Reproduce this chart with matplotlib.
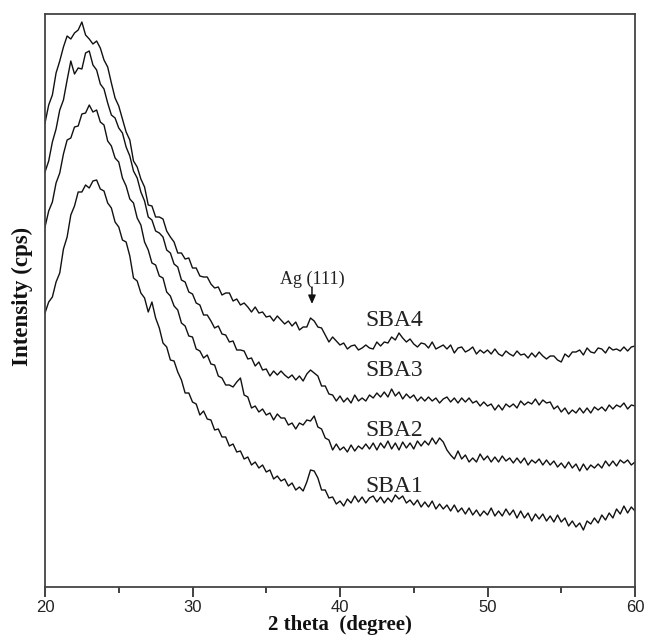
import numpy as np
import matplotlib
matplotlib.use("Agg")
import matplotlib.pyplot as plt

# 2 theta grid (degree)
two_theta = [20 + 0.25 * i for i in range(161)]

# Intensities (arbitrary units)
sba4 = [477, 495, 505, 527, 539, 553, 564, 561, 567, 570, 578, 565, 561, 556, 559, 552, 540, 533, 517, 502,
        494, 481, 468, 460, 439, 433, 421, 413, 395, 394, 383, 383, 381, 369, 363, 358, 347, 347, 341, 342,
        332, 332, 324, 323, 323, 316, 312, 313, 305, 307, 307, 299, 301, 295, 297, 293, 288, 293, 287, 288,
        283, 284, 279, 284, 280, 276, 279, 274, 278, 270, 273, 273, 282, 279, 273, 272, 265, 258, 263, 259,
        255, 257, 251, 254, 255, 250, 252, 255, 252, 251, 258, 254, 258, 257, 263, 260, 267, 262, 258, 261,
        256, 253, 257, 256, 252, 258, 251, 253, 255, 251, 255, 247, 252, 253, 248, 250, 253, 246, 250, 247,
        250, 246, 251, 246, 244, 249, 246, 244, 249, 245, 246, 242, 247, 243, 248, 244, 241, 244, 244, 240,
        238, 246, 243, 248, 248, 250, 245, 252, 248, 247, 252, 251, 247, 253, 250, 251, 249, 253, 249, 253,
        254]
sba3 = [428, 439, 458, 471, 490, 500, 520, 539, 526, 532, 531, 547, 549, 535, 530, 516, 511, 497, 485, 482,
        472, 467, 453, 444, 429, 422, 408, 399, 383, 380, 369, 367, 363, 350, 347, 336, 333, 320, 318, 308,
        306, 297, 295, 285, 285, 279, 272, 274, 266, 265, 258, 259, 250, 250, 249, 241, 242, 234, 238, 230,
        231, 224, 229, 225, 229, 225, 222, 225, 220, 224, 219, 226, 230, 227, 224, 214, 214, 206, 205, 199,
        204, 198, 202, 197, 205, 199, 202, 199, 205, 202, 207, 203, 208, 203, 211, 204, 208, 201, 206, 202,
        205, 199, 203, 199, 203, 199, 202, 197, 201, 203, 198, 202, 197, 202, 198, 202, 197, 199, 194, 198,
        194, 196, 190, 195, 190, 196, 193, 196, 192, 199, 195, 198, 196, 201, 195, 200, 197, 198, 191, 194,
        188, 192, 186, 190, 187, 192, 187, 192, 187, 193, 190, 193, 189, 195, 191, 195, 193, 197, 191, 195,
        194]
sba2 = [373, 389, 398, 417, 427, 446, 460, 462, 473, 474, 486, 487, 495, 488, 490, 478, 475, 459, 454, 442,
        438, 422, 414, 401, 397, 382, 375, 358, 350, 337, 335, 324, 322, 308, 304, 294, 290, 277, 274, 264,
        263, 251, 249, 242, 245, 236, 235, 224, 222, 215, 215, 213, 218, 222, 205, 203, 192, 194, 188, 191,
        185, 187, 180, 186, 182, 182, 175, 177, 171, 177, 175, 180, 179, 184, 173, 171, 162, 160, 150, 156,
        150, 153, 148, 155, 149, 154, 151, 156, 151, 157, 150, 157, 152, 159, 151, 157, 150, 158, 152, 157,
        151, 159, 154, 159, 155, 162, 156, 162, 158, 150, 145, 141, 149, 141, 145, 138, 142, 138, 146, 140,
        144, 138, 143, 138, 144, 139, 142, 137, 142, 137, 142, 135, 140, 137, 141, 135, 140, 135, 139, 133,
        137, 132, 138, 132, 136, 129, 136, 130, 135, 132, 136, 132, 139, 134, 139, 134, 140, 137, 140, 135,
        138]
sba1 = [287, 298, 303, 318, 327, 351, 363, 385, 394, 408, 408, 415, 412, 419, 420, 411, 409, 397, 392, 378,
        373, 360, 358, 344, 322, 319, 307, 302, 288, 298, 282, 272, 257, 253, 240, 239, 228, 220, 207, 207,
        198, 196, 185, 189, 181, 180, 170, 171, 163, 163, 154, 156, 148, 149, 141, 143, 135, 138, 132, 135,
        128, 130, 121, 124, 119, 121, 114, 117, 110, 113, 109, 118, 130, 129, 122, 110, 110, 102, 103, 96,
        99, 94, 101, 97, 104, 98, 103, 97, 102, 104, 98, 103, 97, 102, 98, 105, 101, 104, 97, 100,
        95, 100, 93, 98, 93, 99, 91, 96, 91, 95, 89, 95, 88, 92, 86, 92, 85, 90, 84, 89,
        85, 92, 84, 89, 84, 91, 85, 90, 82, 89, 82, 87, 79, 86, 81, 86, 79, 84, 78, 85,
        78, 82, 74, 79, 73, 77, 70, 79, 76, 82, 77, 85, 80, 87, 82, 91, 86, 94, 87, 93,
        89]

series_names = ["SBA4", "SBA3", "SBA2", "SBA1"]
series = [sba4, sba3, sba2, sba1]
label_pos = [(41.7, 280), (41.7, 230), (41.7, 170), (41.7, 113)]
x_ticks = [20, 30, 40, 50, 60]
peak_label = "Ag (111)"
peak_pos = 38.1

fig = plt.figure(figsize=(6.46, 6.38), dpi=100)
ax = fig.add_axes([45 / 646, 51 / 638, 590 / 646, 573 / 638])

for vals in series:
    ax.plot(two_theta, vals, color="#111111", lw=1.0)

serif = ["Liberation Serif", "DejaVu Serif"]
for name, (lx, ly) in zip(series_names, label_pos):
    ax.text(lx, ly, name, fontsize=17, family=serif, color="#222222",
            va="center", ha="left")

ax.text(peak_pos, 321, peak_label, ha="center", va="center", fontsize=13,
        family=serif, color="#222222")
ax.annotate("", xy=(peak_pos, 296), xytext=(peak_pos, 313),
            arrowprops=dict(arrowstyle="-|>,head_length=0.5,head_width=0.22",
                            color="#111111", lw=1.1, shrinkA=0, shrinkB=0))

ax.set_xlim(20, 60)
ax.set_ylim(13, 586)
ax.set_xticks(x_ticks)
ax.set_xticks([25, 35, 45, 55], minor=True)
ax.set_yticks([])
ax.tick_params(axis="x", which="major", direction="out", length=7, width=1.3,
               labelsize=12, pad=2, colors="#333333")
ax.tick_params(axis="x", which="minor", direction="out", length=4, width=1.3,
               colors="#333333")
for lab in ax.get_xticklabels():
    lab.set_family(["Liberation Sans", "DejaVu Sans"])
    lab.set_color("#222222")
for sp in ax.spines.values():
    sp.set_linewidth(1.3)
    sp.set_color("#444444")

fig.text(340 / 646, 1 - 625 / 638, "2 theta  (degree)", fontsize=15, family=serif,
         fontweight="bold", ha="center", va="center", color="#111111")
fig.text(22 / 646, 1 - 296 / 638, "Intensity (cps)", fontsize=16.5, family=serif,
         fontweight="bold", ha="center", va="center", rotation=90, color="#111111")

fig.savefig("out.png", dpi=100)
